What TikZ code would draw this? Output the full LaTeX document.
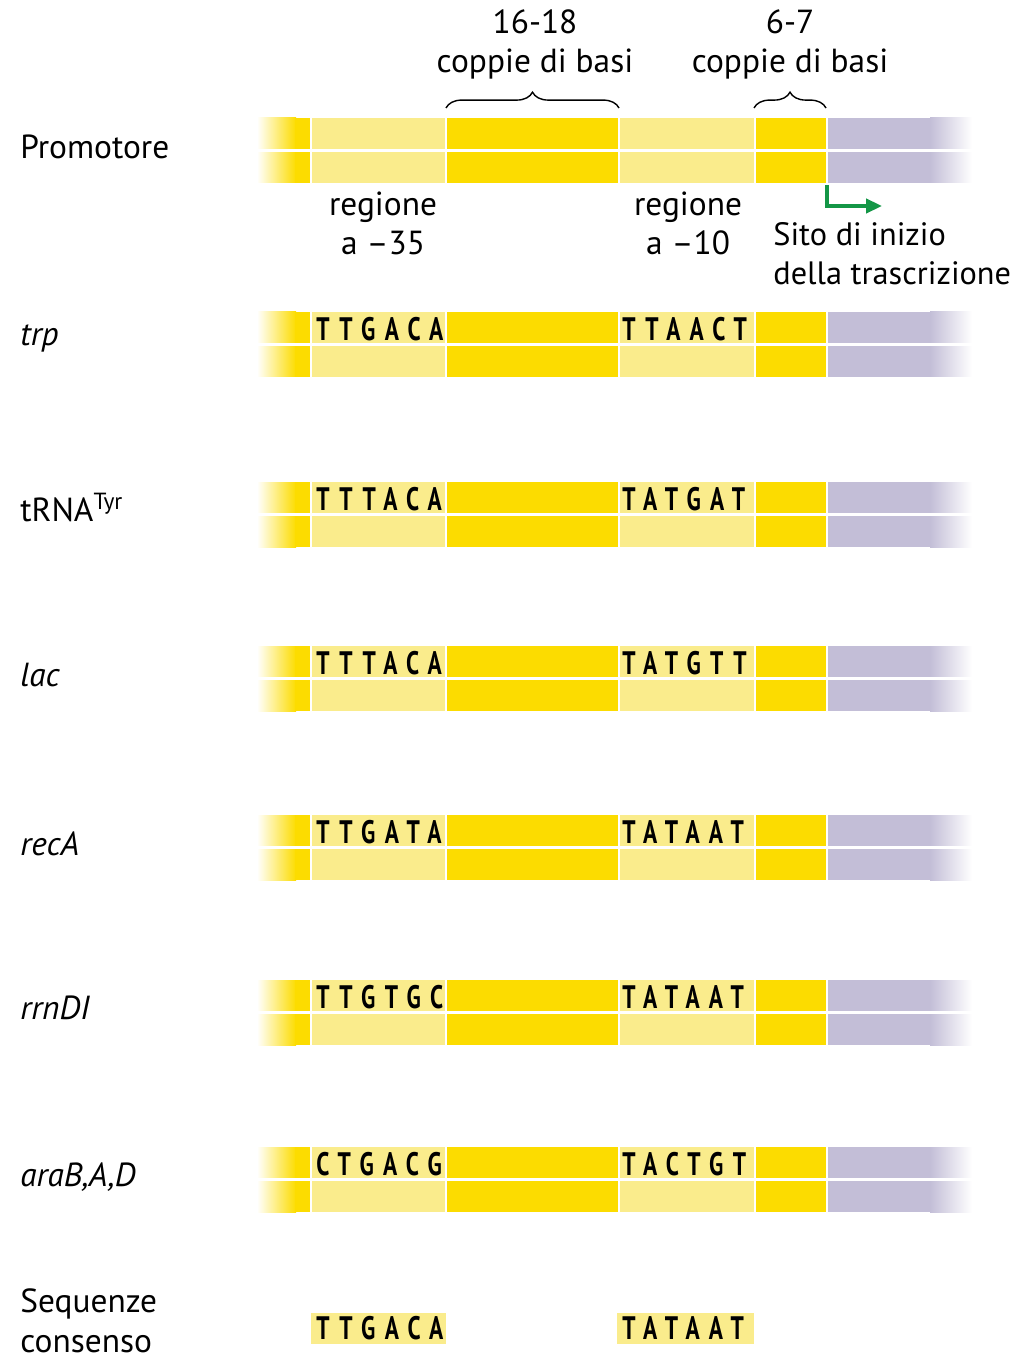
\documentclass[tikz,border=0pt]{standalone}
\usepackage{fontspec}
\usepackage{graphicx}
\setmainfont{PT Sans}
\newfontfamily\seqfont[LetterSpace=40]{PT Sans}
\usetikzlibrary{decorations.pathreplacing,arrows.meta}

\definecolor{gialloscuro}{RGB}{252,220,0}
\definecolor{giallochiaro}{RGB}{250,236,140}
\definecolor{lilla}{RGB}{195,190,215}
\definecolor{verde}{RGB}{20,150,70}

\tikzset{
  etichetta/.style={font=\fontsize{19}{22.4}\selectfont, inner sep=0pt, align=center},
  basi/.style={font=\fontsize{18.5}{20}\selectfont, inner sep=0pt, anchor=west},
  gap/.style={white, line width=1.5pt},
}

% bold narrow letters of a sequence
\newcommand{\seq}[1]{\scalebox{0.72}[1]{\seqfont\bfseries #1}}

% one double-stranded promoter bar, #1 = top edge
\newcommand{\barra}[1]{
  \shade[left color=white, right color=gialloscuro] (257,#1) rectangle (296,#1+65);
  \fill[gialloscuro] (295,#1) rectangle (312,#1+65);
  \fill[giallochiaro] (311,#1) rectangle (446,#1+65);
  \fill[gialloscuro] (446,#1) rectangle (619,#1+65);
  \fill[giallochiaro] (619,#1) rectangle (755,#1+65);
  \fill[gialloscuro] (755,#1) rectangle (827,#1+65);
  \fill[lilla] (827,#1) rectangle (931,#1+65);
  \shade[left color=lilla, right color=white] (930,#1) rectangle (972,#1+65);
  \draw[gap] (257,#1+32.5) -- (972,#1+32.5); % strands
  \foreach \x in {311,446,619,755,827}
    \draw[gap] (\x,#1) -- (\x,#1+65);
}

\begin{document}
\begin{tikzpicture}[x=0.02cm, y=-0.02cm]
  \useasboundingbox (0,0) rectangle (1018,1361);

  % Bars
  \barra{118}
  \foreach \t in {312,482,646,815,980,1147}
    {\barra{\t}}

  % Spacers (base = last line)
  \node[etichetta, anchor=base] (spacer) at (535,73) {16-18\\coppie di basi};
  \node[etichetta, anchor=base] (spacer2) at (790,73) {6-7\\coppie di basi};
  \draw[line width=0.8pt, decorate, decoration={brace, amplitude=9pt}] (446,108) -- (619,108);
  \draw[line width=0.8pt, decorate, decoration={brace, amplitude=9pt}] (754,108) -- (826,108);

  % Regions and start site
  \node[etichetta, anchor=base] (reg35) at (383,255) {regione\\a \textendash35};
  \node[etichetta, anchor=base] (reg10) at (688,255) {regione\\a \textendash10};
  \node[etichetta, anchor=base west, align=left, font=\fontsize{18.4}{22.4}\selectfont] (sito) at (773,285) {Sito di inizio\\della trascrizione};
  \coordinate (inizio) at (827,185);
  \coordinate (verso) at (882,206);
  \draw[verde, line width=2pt, -{Triangle[length=9pt, width=8pt]}] (inizio) |- (verso);

  % Names
  \node[etichetta, anchor=base west] (promotore) at (20,159) {Promotore};
  \node[etichetta, anchor=base west] (trp) at (20,346) {\textit{trp}};
  \node[etichetta, anchor=base west] (trna) at (20,521) {tRNA\textsuperscript{Tyr}};
  \node[etichetta, anchor=base west] (lac) at (20,686) {\textit{lac}};
  \node[etichetta, anchor=base west] (reca) at (20,855) {\textit{recA}};
  \node[etichetta, anchor=base west] (rrn) at (20,1019) {\textit{rrnDI}};
  \node[etichetta, anchor=base west] (ara) at (20,1186) {\textit{araB,A,D}};
  \node[etichetta, anchor=base west, align=left] (consenso) at (20,1352) {Sequenze\\consenso};

  % Sequences
  \node[basi] (trp35) at (316,329) {\seq{TTGACA}};
  \node[basi] (trp10) at (622,329) {\seq{TTAACT}};
  \node[basi] (trna35) at (316,499) {\seq{TTTACA}};
  \node[basi] (trna10) at (622,499) {\seq{TATGAT}};
  \node[basi] (lac35) at (316,663) {\seq{TTTACA}};
  \node[basi] (lac10) at (622,663) {\seq{TATGTT}};
  \node[basi] (reca35) at (316,832) {\seq{TTGATA}};
  \node[basi] (reca10) at (622,832) {\seq{TATAAT}};
  \node[basi] (rrn35) at (316,997) {\seq{TTGTGC}};
  \node[basi] (rrn10) at (622,997) {\seq{TATAAT}};
  \node[basi] (ara35) at (316,1164) {\seq{CTGACG}};
  \node[basi] (ara10) at (622,1164) {\seq{TACTGT}};

  % Consensus
  \fill[giallochiaro] (311,1313) rectangle (446,1344);
  \fill[giallochiaro] (617,1313) rectangle (754,1344);
  \node[basi] (cons35) at (316,1328) {\seq{TTGACA}};
  \node[basi] (cons10) at (622,1328) {\seq{TATAAT}};
\end{tikzpicture}
\end{document}
